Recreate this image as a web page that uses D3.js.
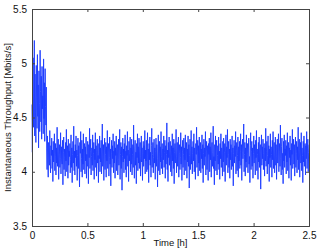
<!DOCTYPE html>
<html>
<head>
<meta charset="utf-8">
<script src="https://cdn.jsdelivr.net/npm/d3@7"></script>
<style>
  body { margin: 0; background: #fff; }
  text { font-family: "Liberation Sans", Arial, sans-serif; fill: #111; }
</style>
</head>
<body>
<div id="chart"></div>
<script>
// throughput samples (Mbits/s), evenly spaced over 0..2.5 h
const startPhase = [
  4.62, 4.18, 4.85, 5.05, 4.41, 4.72, 5.21, 4.33, 4.90, 4.55, 4.27, 4.98, 4.68, 4.40, 5.08, 4.51, 4.80, 4.22, 4.93, 4.63,
  4.37, 5.12, 4.74, 4.46, 4.88, 4.30, 4.97, 4.58, 4.70, 4.35, 5.04, 4.49, 4.82, 4.28, 4.95, 4.60, 4.43, 4.78
];
const steadyPhase = [
  4.21, 4.02, 4.33, 4.10, 3.95, 4.27, 4.18, 4.06, 4.38, 4.12, 3.99, 4.24, 4.15, 4.31, 4.03, 4.20, 3.91, 4.28, 4.09, 4.17,
  4.35, 4.01, 4.14, 4.26, 3.97, 4.22, 4.08, 4.41, 4.05, 4.19, 4.30, 3.93, 4.16, 4.25, 4.04, 4.12, 4.36, 3.98, 4.23, 4.11,
  4.07, 4.29, 3.88, 4.18, 4.32, 4.02, 4.21, 4.13, 3.96, 4.27, 4.10, 4.39, 4.00, 4.17, 4.24, 3.94, 4.30, 4.06, 4.19, 4.14,
  4.26, 3.99, 4.11, 4.34, 4.04, 4.22, 3.90, 4.16, 4.28, 4.08, 4.42, 4.01, 4.19, 3.97, 4.25, 4.13, 4.33, 4.05, 4.20, 3.92,
  4.15, 4.31, 4.03, 4.24, 4.09, 3.86, 4.27, 4.17, 4.37, 4.00, 4.12, 4.29, 3.95, 4.21, 4.07, 4.35, 4.02, 4.18, 4.26, 3.98,
  4.23, 4.10, 4.32, 3.94, 4.16, 4.05, 4.28, 4.20, 3.89, 4.25, 4.13, 4.40, 4.03, 4.19, 4.30, 3.97, 4.14, 4.22, 4.06, 4.34,
  4.01, 4.17, 4.27, 3.93, 4.21, 4.11, 4.36, 4.04, 4.24, 3.96, 4.18, 4.30, 4.08, 4.15, 3.90, 4.26, 4.12, 4.33, 4.00, 4.22,
  4.09, 4.29, 3.98, 4.19, 4.44, 4.05, 4.14, 4.25, 3.92, 4.20, 4.31, 4.02, 4.16, 4.27, 3.95, 4.23, 4.10, 4.38, 4.03, 4.18,
  4.26, 3.96, 4.13, 4.32, 4.07, 4.21, 3.87, 4.17, 4.29, 4.04, 4.24, 4.12, 4.35, 3.99, 4.19, 4.08, 4.28, 3.94, 4.22, 4.15,
  4.33, 4.01, 4.18, 4.25, 3.97, 4.11, 4.30, 4.06, 4.20, 4.39, 3.93, 4.16, 4.27, 4.03, 4.23, 3.83, 4.14, 4.31, 4.09, 4.21,
  3.99, 4.26, 4.12, 4.34, 4.02, 4.19, 3.95, 4.24, 4.15, 4.37, 4.05, 4.20, 3.91, 4.28, 4.10, 4.17, 4.32, 4.00, 4.22, 4.07,
  4.30, 3.97, 4.16, 4.25, 4.04, 4.43, 4.11, 3.94, 4.21, 4.29, 4.06, 4.18, 3.89, 4.26, 4.13, 4.35, 4.01, 4.23, 4.08, 4.31,
  4.03, 4.19, 4.27, 3.96, 4.14, 4.33, 4.09, 4.22, 3.92, 4.17, 4.28, 4.05, 4.24, 4.12, 4.38, 3.98, 4.20, 4.10, 4.29, 4.00,
  4.15, 4.36, 4.02, 4.21, 3.90, 4.26, 4.11, 4.32, 4.06, 4.18, 3.95, 4.24, 4.40, 4.04, 4.16, 4.27, 3.99, 4.13, 4.30, 4.08,
  4.22, 3.93, 4.19, 4.31, 4.05, 4.25, 4.12, 3.86, 4.20, 4.34, 4.01, 4.17, 4.28, 3.97, 4.23, 4.09, 4.37, 4.03, 4.14, 4.26,
  3.98, 4.21, 4.11, 4.33, 4.04, 4.18, 4.29, 3.94, 4.24, 4.07, 4.16, 4.45, 4.02, 4.20, 3.91, 4.27, 4.13, 4.32, 4.06, 4.19,
  4.28, 4.00, 4.15, 4.24, 3.96, 4.35, 4.10, 4.22, 4.03, 4.30, 3.89, 4.18, 4.26, 4.08, 4.21, 4.39, 3.99, 4.14, 4.27, 4.05,
  4.20, 4.32, 3.95, 4.17, 4.25, 4.02, 4.13, 4.36, 4.07, 4.23, 3.92, 4.19, 4.29, 4.04, 4.16, 4.31, 3.97, 4.22, 4.11, 4.34,
  4.01, 4.18, 4.27, 3.94, 4.21, 4.09, 4.33, 4.05, 4.25, 3.85, 4.15, 4.30, 4.02, 4.20, 4.38, 4.07, 4.23, 3.98, 4.17, 4.28,
  4.10, 4.35, 4.00, 4.22, 4.13, 3.93, 4.26, 4.16, 4.41, 4.04, 4.19, 4.29, 3.96, 4.24, 4.08, 4.32, 4.01, 4.18, 4.27, 3.99,
  4.21, 4.12, 4.34, 4.03, 4.25, 3.90, 4.17, 4.30, 4.06, 4.22, 4.14, 4.37, 3.97, 4.19, 4.28, 4.02, 4.24, 4.09, 3.92, 4.26,
  4.16, 4.31, 4.00, 4.23, 4.11, 4.36, 3.95, 4.20, 4.27, 4.05, 4.18, 4.42, 4.03, 4.14, 3.88, 4.25, 4.10, 4.33, 4.01, 4.21,
  4.29, 3.97, 4.15, 4.24, 4.07, 4.32, 4.02, 4.19, 3.93, 4.26, 4.12, 4.35, 4.04, 4.22, 4.17, 3.96, 4.28, 4.09, 4.31, 4.00,
  4.18, 4.26, 3.91, 4.20, 4.34, 4.06, 4.23, 4.13, 4.39, 3.99, 4.16, 4.28, 4.04, 4.21, 3.94, 4.30, 4.11, 4.25, 4.02, 4.19,
  4.33, 4.05, 4.22, 3.87, 4.17, 4.29, 4.08, 4.24, 4.14, 4.37, 3.98, 4.20, 4.27, 4.01, 4.15, 4.32, 3.95, 4.23, 4.10, 4.28,
  4.03, 4.19, 4.35, 4.06, 4.25, 3.92, 4.18, 4.30, 4.12, 4.21, 4.44, 4.00, 4.16, 4.27, 3.96, 4.22, 4.09, 4.34, 4.04, 4.17,
  4.26, 3.99, 4.20, 4.31, 4.07, 4.14, 3.90, 4.24, 4.36, 4.02, 4.19, 4.28, 4.05, 4.22, 3.94, 4.17, 4.33, 4.08, 4.25, 4.11,
  3.97, 4.29, 4.13, 4.38, 4.01, 4.21, 4.16, 3.93, 4.27, 4.09, 4.32, 4.04, 4.18, 4.25, 3.84, 4.20, 4.34, 4.06, 4.23, 4.12,
  4.30, 4.02, 4.17, 4.26, 3.96, 4.22, 4.10, 4.40, 4.05, 4.19, 4.28, 3.98, 4.15, 4.33, 4.07, 4.24, 3.91, 4.21, 4.13, 4.35,
  4.04, 4.23, 4.16, 3.95, 4.29, 4.11, 4.37, 4.03, 4.20, 4.27, 3.99, 4.18, 4.32, 4.06, 4.25, 3.93, 4.14, 4.30, 4.08, 4.22,
  4.35, 4.00, 4.19, 4.26, 4.05, 4.43, 4.12, 3.97, 4.23, 4.31, 4.02, 4.17, 3.89, 4.28, 4.10, 4.34, 4.04, 4.21, 4.15, 4.29,
  3.98, 4.24, 4.09, 4.36, 4.01, 4.18, 4.27, 3.94, 4.22, 4.13, 4.33, 4.06, 4.20, 3.92, 4.26, 4.16, 4.39, 4.03, 4.19, 4.30,
  4.07, 4.25, 3.96, 4.21, 4.32, 4.04, 4.17, 4.28, 3.99, 4.23, 4.11, 4.41, 4.02, 4.20, 4.30, 3.95, 4.14, 4.27, 4.08, 4.36,
  4.01, 4.22, 4.15, 3.90, 4.28, 4.09, 4.33, 4.05, 4.19, 4.26, 3.97, 4.24, 4.12, 4.37, 4.03, 4.21, 4.30, 4.00, 4.18, 4.25
];
const xTicks = [0, 0.5, 1, 1.5, 2, 2.5];
const yTicks = [3.5, 4, 4.5, 5, 5.5];
const tEnd = 2.5;

const width = 319, height = 252;
const margin = {top: 9, right: 10, bottom: 26, left: 32};

const values = startPhase.concat(steadyPhase);
const dt = tEnd / (values.length - 1);
const series = values.map((v, i) => ({t: i * dt, v: v}));

const svg = d3.select("#chart").append("svg")
    .attr("width", width)
    .attr("height", height);

const x = d3.scaleLinear().domain([0, tEnd]).range([margin.left, width - margin.right]);
const y = d3.scaleLinear().domain([3.5, 5.5]).range([height - margin.bottom, margin.top]);

const line = d3.line()
    .x(d => x(d.t))
    .y(d => y(d.v));

svg.append("path")
    .datum(series)
    .attr("d", line)
    .attr("fill", "none")
    .attr("stroke", "#1a3aff")
    .attr("stroke-opacity", 0.9)
    .attr("stroke-width", 1)
    .attr("stroke-linejoin", "bevel");

const axisColor = "#444";
const tickLen = 3;

// ticks inside, on all four sides (matlab style)
const axBottom = svg.append("g")
    .attr("transform", `translate(0,${height - margin.bottom})`)
    .call(d3.axisBottom(x).tickValues(xTicks).tickSize(-tickLen).tickPadding(6).tickFormat(d3.format("")));
const axTop = svg.append("g")
    .attr("transform", `translate(0,${margin.top})`)
    .call(d3.axisTop(x).tickValues(xTicks).tickSize(-tickLen).tickFormat(""));
const axLeft = svg.append("g")
    .attr("transform", `translate(${margin.left},0)`)
    .call(d3.axisLeft(y).tickValues(yTicks).tickSize(-tickLen).tickPadding(5).tickFormat(d3.format("")));
const axRight = svg.append("g")
    .attr("transform", `translate(${width - margin.right},0)`)
    .call(d3.axisRight(y).tickValues(yTicks).tickSize(-tickLen).tickFormat(""));

[axBottom, axTop, axLeft, axRight].forEach(g => {
  g.select(".domain").attr("stroke", axisColor).attr("stroke-width", 1);
  g.selectAll(".tick line").attr("stroke", axisColor);
  g.selectAll("text").attr("font-size", 10).attr("fill", "#111")
      .attr("font-family", "Liberation Sans, Arial, sans-serif");
});

svg.append("text")
    .attr("x", (margin.left + width - margin.right) / 2)
    .attr("y", 246)
    .attr("text-anchor", "middle")
    .attr("font-size", 9.5)
    .text("Time [h]");

svg.append("text")
    .attr("transform", `translate(11,${(margin.top + height - margin.bottom) / 2}) rotate(-90)`)
    .attr("text-anchor", "middle")
    .attr("font-size", 9.5)
    .text("Instantaneous Throughput [Mbits/s]");
</script>
</body>
</html>
